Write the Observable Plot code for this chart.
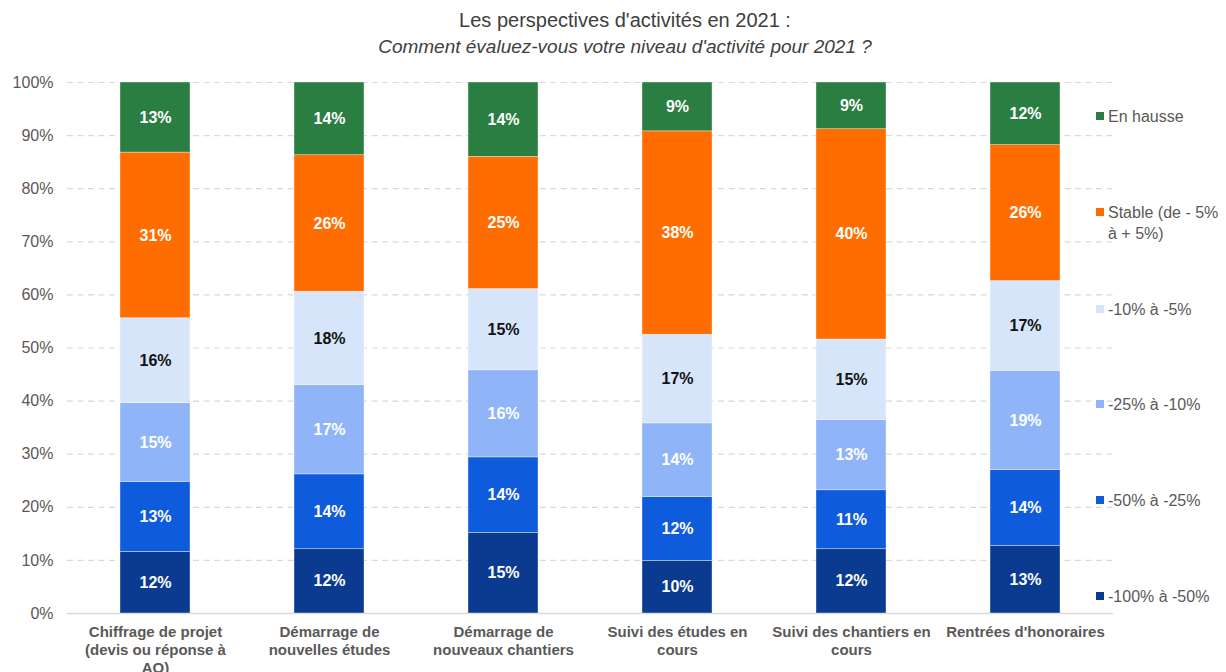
<!DOCTYPE html>
<html>
<head>
<meta charset="utf-8">
<script src="https://cdn.jsdelivr.net/npm/d3@7"></script>
<script src="https://cdn.jsdelivr.net/npm/@observablehq/plot@0.6"></script>
<style>
  body { margin: 0; background: #fff; font-family: "Liberation Sans", Arial, sans-serif; }
  #wrap { position: relative; width: 1226px; height: 672px; overflow: hidden; }
  #head { height: 64px; position: relative; color: #404040; }
  #t1 { position: absolute; left: 12px; width: 1226px; top: 8px; text-align: center; font-size: 20px; line-height: 24px; }
  #t2 { position: absolute; left: 12px; width: 1226px; top: 35px; text-align: center; font-size: 19px; line-height: 24px; font-style: italic; }
  #legend { position: absolute; left: 0; top: 0; width: 1226px; height: 672px; pointer-events: none; }
  .li { position: absolute; left: 1096px; font-size: 16px; line-height: 21px; color: #595959; }
  .sw { position: absolute; left: 0; top: 6px; width: 8px; height: 8px; }
  .lt { position: absolute; left: 12px; white-space: nowrap; }
</style>
</head>
<body>
<div id="wrap">
  <div id="head">
    <div id="t1">Les perspectives d'activités en 2021 :</div>
    <div id="t2">Comment évaluez-vous votre niveau d'activité pour 2021 ?</div>
  </div>
  <div id="chart"></div>
  <div id="legend"></div>
</div>
<script>
const categories = [
  "Chiffrage de projet\n(devis ou réponse à\nAO)",
  "Démarrage de\nnouvelles études",
  "Démarrage de\nnouveaux chantiers",
  "Suivi des études en\ncours",
  "Suivi des chantiers en\ncours",
  "Rentrées d'honoraires"
];
const series = ["-100% à -50%", "-50% à -25%", "-25% à -10%", "-10% à -5%", "Stable (de - 5% à + 5%)", "En hausse"];
const colors = ["#0b3a91", "#0e5bdb", "#8fb5f8", "#d7e5fb", "#ff6d00", "#2a7e41"];

const v100to50 = [11.6, 12.1, 15.2, 9.9, 12.1, 12.7];
const v50to25  = [13.2, 14.1, 14.2, 12.0, 11.1, 14.3];
const v25to10  = [14.8, 16.8, 16.4, 13.9, 13.2, 18.7];
const v10to5   = [16.0, 17.6, 15.3, 16.7, 15.2, 16.9];
const vStable  = [31.2, 25.7, 24.9, 38.3, 39.6, 25.6];
const vHausse  = [13.2, 13.7, 14.0, 9.2, 8.8, 11.8];
const yTicks = [0, 10, 20, 30, 40, 50, 60, 70, 80, 90, 100];

const seriesValues = [v100to50, v50to25, v25to10, v10to5, vStable, vHausse];
const data = [];
series.forEach((s, si) => categories.forEach((c, ci) => data.push({cat: c, series: s, value: seriesValues[si][ci]})));

const pale = series[3];
const fmt = v => Math.round(v) + "%";

const chart = Plot.plot({
  width: 1226,
  height: 608,
  marginTop: 18,
  marginBottom: 59,
  marginLeft: 67,
  marginRight: 113,
  style: {fontFamily: "'Liberation Sans', Arial, sans-serif", background: "#fff"},
  x: {domain: categories, paddingInner: 0.6, paddingOuter: 0.3, label: null},
  y: {domain: [0, 100], label: null},
  color: {domain: series, range: colors, legend: false},
  marks: [
    Plot.gridY(yTicks.filter(d => d > 0), {stroke: "#d9d9d9", strokeOpacity: 1, strokeWidth: 1.2, strokeDasharray: "6,4.5"}),
    Plot.ruleY([0], {stroke: "#d9d9d9", strokeWidth: 1.5}),
    Plot.barY(data, {x: "cat", y: "value", fill: "series", stroke: "#ffffff", strokeWidth: 0.6, strokeOpacity: 0.6}),
    Plot.text(data, Plot.stackY({x: "cat", y: "value", z: "series",
      text: d => d.series === pale ? null : fmt(d.value),
      fill: "white", fontSize: 16, fontWeight: "bold"})),
    Plot.text(data, Plot.stackY({x: "cat", y: "value", z: "series",
      text: d => d.series === pale ? fmt(d.value) : null,
      fill: "#111111", fontSize: 16, fontWeight: "bold"})),
    Plot.axisY({ticks: yTicks, tickFormat: d => d + "%", tickSize: 0, tickPadding: 14, fontSize: 16, fill: "#595959", label: null}),
    Plot.axisX({tickSize: 0, tickPadding: 11, fontSize: 15, fontWeight: "bold", fill: "#595959", lineHeight: 1.2, label: null})
  ]
});
document.getElementById("chart").appendChild(chart);

// legend (top = series first line centre)
const legendCenters = [596, 500, 404, 309, 212, 116];
const legendLines = [["-100% à -50%"], ["-50% à -25%"], ["-25% à -10%"], ["-10% à -5%"], ["Stable (de - 5%", "à + 5%)"], ["En hausse"]];
const lg = document.getElementById("legend");
series.forEach((s, i) => {
  const item = document.createElement("div");
  item.className = "li";
  item.style.top = (legendCenters[i] - 10.5) + "px";
  const sw = document.createElement("div");
  sw.className = "sw";
  sw.style.background = colors[i];
  const t = document.createElement("div");
  t.className = "lt";
  t.innerHTML = legendLines[i].join("<br>");
  item.appendChild(sw);
  item.appendChild(t);
  lg.appendChild(item);
});
</script>
</body>
</html>
